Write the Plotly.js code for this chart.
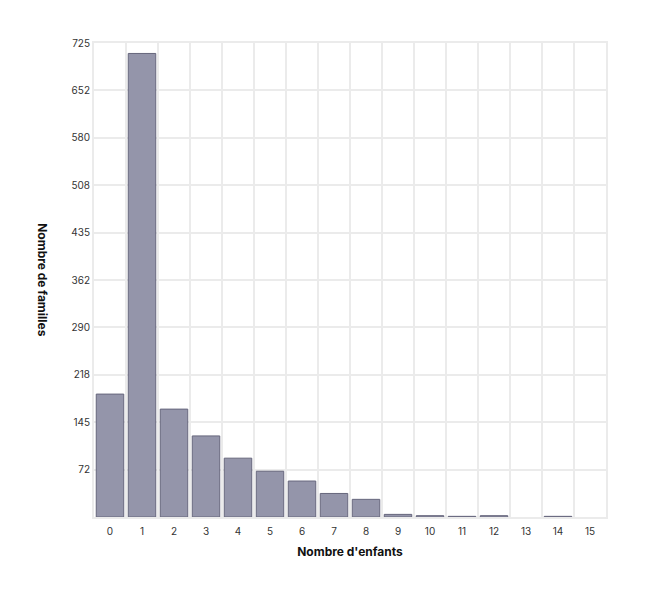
<!DOCTYPE html>
<html>
<head>
<meta charset="utf-8">
<script src="https://cdn.plot.ly/plotly-3.0.1.min.js"></script>
<style>html,body{margin:0;padding:0;background:#fff;}#chart{width:646px;height:594px;}</style>
</head>
<body>
<div id="chart"></div>
<script>
const categories = [0,1,2,3,4,5,6,7,8,9,10,11,12,13,14,15];
const familles = [188,709,165,124,90,70,55,36,27,4,2,1,2,0,1,0];
const yTickVals = [72.5,145,217.5,290,362.5,435,507.5,580,652.5,725];
const yTickText = ['72','145','218','290','362','435','508','580','652','725'];

const trace = {
  type: 'bar',
  x: categories,
  y: familles,
  marker: {color: '#9495aa', line: {color: '#66667c', width: familles.map(v => v > 0 ? 1 : 0)}},
  hoverinfo: 'x+y'
};

const layout = {
  width: 646, height: 594,
  margin: {l: 94, r: 40, t: 43, b: 77},
  paper_bgcolor: '#fff', plot_bgcolor: '#fff',
  font: {family: 'Inter, "Open Sans", sans-serif', size: 11, color: '#333'},
  bargap: 0.14,
  showlegend: false,
  xaxis: {
    range: [-0.5, 15.5],
    tickmode: 'array', tickvals: categories, ticktext: categories.map(String),
    showgrid: false, zeroline: false,
    ticks: '', tickfont: {size: 10, color: '#333'}, ticklabelstandoff: 4,
    showline: true, linecolor: '#ebebeb', linewidth: 2, mirror: true,
    minor: {tick0: 0.5, dtick: 1, showgrid: true, gridcolor: '#ebebeb', gridwidth: 2, ticks: ''},
    title: {text: "Nombre d'enfants", font: {size: 12, color: '#111', weight: 'bold'}, standoff: 12}
  },
  yaxis: {
    range: [0, 725],
    tickmode: 'array', tickvals: yTickVals, ticktext: yTickText,
    showgrid: true, gridcolor: '#ebebeb', gridwidth: 2, zeroline: false,
    ticks: '', tickfont: {size: 10, color: '#333'},
    showline: true, linecolor: '#ebebeb', linewidth: 2, mirror: true
  },
  annotations: [{
    text: 'Nombre de familles', textangle: 90,
    xref: 'paper', yref: 'paper', x: -0.1, y: 0.5,
    xanchor: 'center', yanchor: 'middle', showarrow: false,
    font: {size: 12, color: '#111', weight: 'bold'}
  }]
};

Plotly.newPlot('chart', [trace], layout, {displayModeBar: false, staticPlot: true});
</script>
</body>
</html>
